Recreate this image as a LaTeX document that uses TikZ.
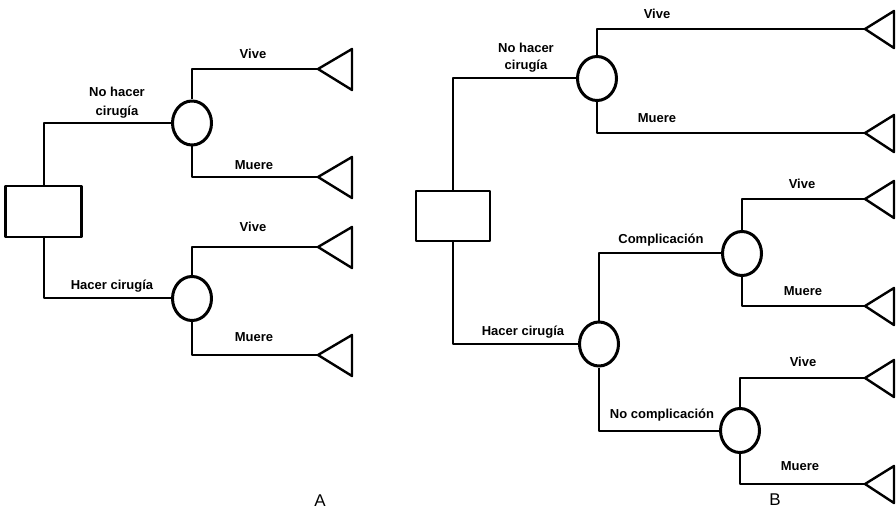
\documentclass[tikz,border=0pt]{standalone}
\usepackage{fontspec}
\setmainfont{Liberation Sans}
\usetikzlibrary{shapes.geometric}
\begin{document}
\begin{tikzpicture}[x=1pt,y=-1pt,
  line join=round,
  decbox/.style={draw,line width=2.6pt,rectangle,minimum width=76pt,minimum height=51pt,inner sep=0pt},
  chance/.style={draw,line width=3pt,ellipse,minimum width=39pt,minimum height=44pt,inner sep=0pt},
  branch/.style={line width=2pt},
  tri/.style={line width=2.4pt},
  lbl/.style={font=\bfseries\fontsize{13}{15}\selectfont,inner sep=0pt},
  panellbl/.style={font=\fontsize{17}{19}\selectfont,inner sep=0pt}]
\useasboundingbox (0,0) rectangle (896,510);

% ---------- A ----------
\node[decbox] (dA) at (43.5,211.5) {};
\node[chance] (cA1) at (192,123) {};
\node[chance] (cA2) at (192,298.5) {};
\coordinate (tA1) at (318,69);
\coordinate (tA2) at (318,177);
\coordinate (tA3) at (318,247);
\coordinate (tA4) at (318,355);
\foreach \t in {tA1,tA2,tA3,tA4}
  \draw[tri] (\t) -- ++(34,-20) -- ++(0,41) -- cycle;

\draw[branch] (dA.north) |- (cA1.west);
\draw[branch] (dA.south) |- (cA2.west);
\draw[branch] (cA1.north) |- (tA1);
\draw[branch] (cA1.south) |- (tA2);
\draw[branch] (cA2.north) |- (tA3);
\draw[branch] (cA2.south) |- (tA4);

\node[lbl] (lA1) at (117,92) {No hacer};
\node[lbl] (lA2) at (117,112) {cirugía};
\node[lbl] (lA3) at (253,54) {Vive};
\node[lbl] (lA4) at (254,165) {Muere};
\node[lbl] (lA5) at (112,286) {Hacer cirugía};
\node[lbl] (lA6) at (253,227) {Vive};
\node[lbl] (lA7) at (254,337) {Muere};
\node[panellbl] (capA) at (320,501) {A};

% ---------- B ----------
\node[decbox,minimum width=74pt,minimum height=50pt] (dB) at (453,216) {};
\node[chance] (cB1) at (597,78.5) {};
\node[chance] (cB2) at (599,344) {};
\node[chance] (cB3) at (742,253.5) {};
\node[chance] (cB4) at (740,430.5) {};
\coordinate (tB1) at (865,29);
\coordinate (tB2) at (865,133);
\coordinate (tB3) at (865,199);
\coordinate (tB4) at (865,306);
\coordinate (tB5) at (865,378);
\coordinate (tB6) at (865,484);
\foreach \t in {tB1,tB2,tB3,tB4,tB5,tB6}
  \draw[tri] (\t) -- ++(29,-18) -- ++(0,37) -- cycle;

\draw[branch] (dB.north) |- (cB1.west);
\draw[branch] (dB.south) |- (cB2.west);
\draw[branch] (cB1.north) |- (tB1);
\draw[branch] (cB1.south) |- (tB2);
\draw[branch] (cB2.north) |- (cB3.west);
\draw[branch] (cB2.south) |- (cB4.west);
\draw[branch] (cB3.north) |- (tB3);
\draw[branch] (cB3.south) |- (tB4);
\draw[branch] (cB4.north) |- (tB5);
\draw[branch] (cB4.south) |- (tB6);

\node[lbl] (lB1) at (526,48) {No hacer};
\node[lbl] (lB2) at (526,66) {cirugía};
\node[lbl] (lB3) at (657,14) {Vive};
\node[lbl] (lB4) at (657,118) {Muere};
\node[lbl] (lB5) at (523,332) {Hacer cirugía};
\node[lbl] (lB6) at (661,240) {Complicación};
\node[lbl] (lB7) at (802,184) {Vive};
\node[lbl] (lB8) at (803,291) {Muere};
\node[lbl] (lB9) at (662,415) {No complicación};
\node[lbl] (lB10) at (803,362) {Vive};
\node[lbl] (lB11) at (800,466) {Muere};
\node[panellbl] (capB) at (775,500) {B};
\end{tikzpicture}
\end{document}
